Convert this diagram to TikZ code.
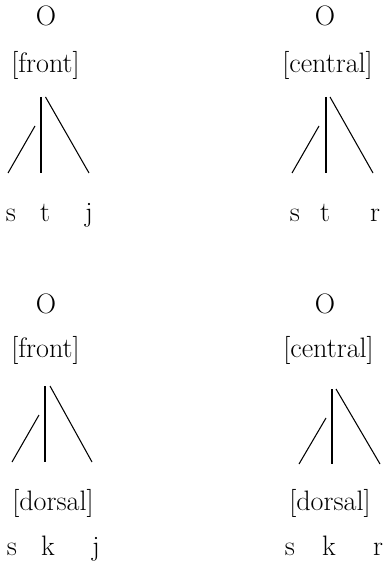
\documentclass[tikz,border=0pt]{standalone}
\usetikzlibrary{positioning}

\begin{document}
\begin{tikzpicture}[
  font=\fontsize{16}{19}\selectfont,
  seg/.style={anchor=base, inner sep=0pt},
  assoc/.style={line width=0.6pt, black},
]
\useasboundingbox (0,0) rectangle (7.66,-11.24);

% =========================== TOP LEFT: s t j ===========================
\node[seg] (o1) at (0.92,-0.52) {O};
\node[seg] (feat1) at (0.91,-1.46) {[front]};
\coordinate (v1top) at (0.82,-1.94);
\coordinate (v1bot) at (0.82,-3.46);
\coordinate (r1top) at (0.91,-1.94);
\coordinate (r1bot) at (1.78,-3.46);
\coordinate (l1top) at (0.70,-2.52);
\coordinate (l1bot) at (0.16,-3.46);
\draw[assoc] (v1top) -- (v1bot);
\draw[assoc] (r1top) -- (r1bot);
\draw[assoc] (l1top) -- (l1bot);
\node[seg] (s1) at (0.22,-4.44) {s};
\node[seg] (t1) at (0.90,-4.44) {t};
\node[seg] (j1) at (1.78,-4.44) {j};

% =========================== TOP RIGHT: s t r ===========================
\node[seg] (o2) at (6.50,-0.52) {O};
\node[seg] (feat2) at (6.55,-1.46) {[central]};
\coordinate (v2top) at (6.52,-1.94);
\coordinate (v2bot) at (6.52,-3.46);
\coordinate (r2top) at (6.60,-1.94);
\coordinate (r2bot) at (7.46,-3.46);
\coordinate (l2top) at (6.38,-2.52);
\coordinate (l2bot) at (5.84,-3.46);
\draw[assoc] (v2top) -- (v2bot);
\draw[assoc] (r2top) -- (r2bot);
\draw[assoc] (l2top) -- (l2bot);
\node[seg] (s2) at (5.90,-4.44) {s};
\node[seg] (t2) at (6.50,-4.44) {t};
\node[seg] (r2) at (7.50,-4.44) {r};

% =========================== BOTTOM LEFT: s k j ===========================
\node[seg] (o3) at (0.92,-6.26) {O};
\node[seg] (feat3) at (0.91,-7.14) {[front]};
\coordinate (v3top) at (0.90,-7.72);
\coordinate (v3bot) at (0.90,-9.24);
\coordinate (r3top) at (1.00,-7.72);
\coordinate (r3bot) at (1.84,-9.24);
\coordinate (l3top) at (0.78,-8.30);
\coordinate (l3bot) at (0.24,-9.24);
\draw[assoc] (v3top) -- (v3bot);
\draw[assoc] (r3top) -- (r3bot);
\draw[assoc] (l3top) -- (l3bot);
\node[seg] (dors3) at (1.06,-10.20) {[dorsal]};
\node[seg] (s3) at (0.24,-11.10) {s};
\node[seg] (k3) at (0.96,-11.10) {k};
\node[seg] (j3) at (1.92,-11.10) {j};

% =========================== BOTTOM RIGHT: s k r ===========================
\node[seg] (o4) at (6.50,-6.26) {O};
\node[seg] (feat4) at (6.57,-7.14) {[central]};
\coordinate (v4top) at (6.64,-7.78);
\coordinate (v4bot) at (6.64,-9.28);
\coordinate (r4top) at (6.72,-7.78);
\coordinate (r4bot) at (7.60,-9.28);
\coordinate (l4top) at (6.52,-8.36);
\coordinate (l4bot) at (5.98,-9.28);
\draw[assoc] (v4top) -- (v4bot);
\draw[assoc] (r4top) -- (r4bot);
\draw[assoc] (l4top) -- (l4bot);
\node[seg] (dors4) at (6.60,-10.20) {[dorsal]};
\node[seg] (s4) at (5.80,-11.10) {s};
\node[seg] (k4) at (6.58,-11.10) {k};
\node[seg] (r4) at (7.56,-11.10) {r};

\end{tikzpicture}
\end{document}
